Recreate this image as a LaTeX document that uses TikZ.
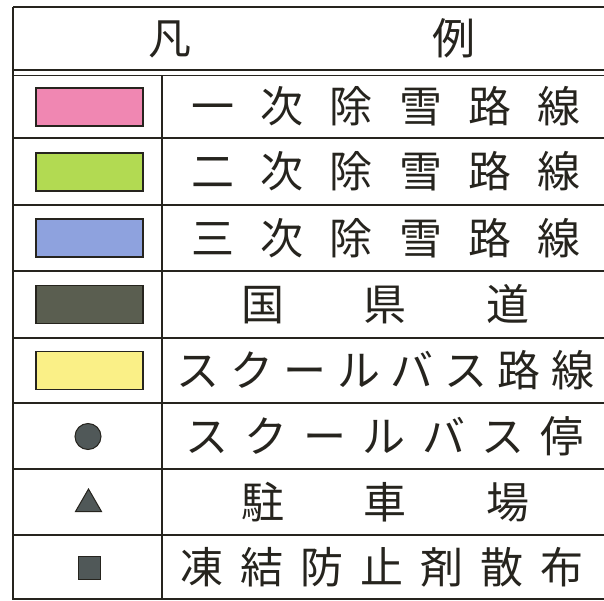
\documentclass[tikz,border=0pt]{standalone}
\usepackage{fontspec}
\setmainfont{Noto Sans CJK JP}
\usetikzlibrary{shapes.geometric}

\newlength{\du}
\setlength{\du}{1pt}
\definecolor{inkline}{RGB}{38,36,30}
\definecolor{firstcolor}{RGB}{240,135,178}
\definecolor{secondcolor}{RGB}{178,218,82}
\definecolor{thirdcolor}{RGB}{142,162,222}
\definecolor{roadcolor}{RGB}{90,94,80}
\definecolor{buscolor}{RGB}{250,240,135}
\definecolor{symbolcolor}{RGB}{80,88,88}
% spread characters over a fixed width
\newcommand{\spreadtext}[2]{\makebox[#1\du][s]{#2}}

\tikzset{
  rule/.style={draw=inkline, line width=1.4\du},
  swatch/.style={draw=inkline, line width=1.4\du, rectangle, inner sep=0pt,
    minimum width=107\du, minimum height=38\du},
  legendtext/.style={inner sep=0pt, text=inkline, font=\fontsize{43}{43}\selectfont},
  symbolnode/.style={draw=inkline, line width=1\du, fill=symbolcolor, inner sep=0pt}
}

\begin{document}
\begin{tikzpicture}[x=1\du, y=-1\du]
\clip (0,0) rectangle (604,601);
\fill[white] (0,0) rectangle (604,601);

% frame and rules
\draw[rule] (13,7) -- (612,7);
\draw[rule] (13,7) -- (13,599) -- (612,599);
\draw[rule] (13,70) -- (612,70);
\draw[rule] (13,75.5) -- (612,75.5);
\foreach \y in {138,205,271,338,403,469,535}
  \draw[rule] (13,\y) -- (612,\y);
\draw[rule] (162,75.5) -- (162,599);

% header
\node[legendtext] (title) at (312,38.5) {\spreadtext{327}{凡\hfill 例}};

% colour swatches
\node[swatch, fill=firstcolor] (first) at (89.5,107) {};
\node[swatch, fill=secondcolor] (second) at (89.5,172) {};
\node[swatch, fill=thirdcolor] (third) at (89.5,238) {};
\node[swatch, fill=roadcolor] (road) at (89.5,304.5) {};
\node[swatch, fill=buscolor] (bus) at (89.5,370.5) {};

% symbols
\node[symbolnode, circle, minimum size=26\du] (stop) at (88,436.5) {};
\node[symbolnode, regular polygon, regular polygon sides=3, minimum size=30\du] (parking) at (88.5,504) {};
\node[symbolnode, rectangle, minimum width=22\du, minimum height=23\du] (antifreeze) at (89,567.5) {};

% texts
\node[legendtext] (firsttext) at (386,106.5) {\spreadtext{389}{一\hfill 次\hfill 除\hfill 雪\hfill 路\hfill 線}};
\node[legendtext] (secondtext) at (386,171.5) {\spreadtext{389}{二\hfill 次\hfill 除\hfill 雪\hfill 路\hfill 線}};
\node[legendtext] (thirdtext) at (386,238) {\spreadtext{389}{三\hfill 次\hfill 除\hfill 雪\hfill 路\hfill 線}};
\node[legendtext] (roadtext) at (385.5,304.5) {\spreadtext{288}{国\hfill 県\hfill 道}};
\node[legendtext] (bustext) at (385.5,370.5) {\spreadtext{418}{ス\hfill ク\hfill ー\hfill ル\hfill バ\hfill ス\hfill 路\hfill 線}};
\node[legendtext] (stoptext) at (384.5,436) {\spreadtext{398}{ス\hfill ク\hfill ー\hfill ル\hfill バ\hfill ス\hfill 停}};
\node[legendtext] (parkingtext) at (385.5,502) {\spreadtext{288}{駐\hfill 車\hfill 場}};
\node[legendtext] (antifreezetext) at (382,567) {\spreadtext{403}{凍\hfill 結\hfill 防\hfill 止\hfill 剤\hfill 散\hfill 布}};
\end{tikzpicture}
\end{document}
